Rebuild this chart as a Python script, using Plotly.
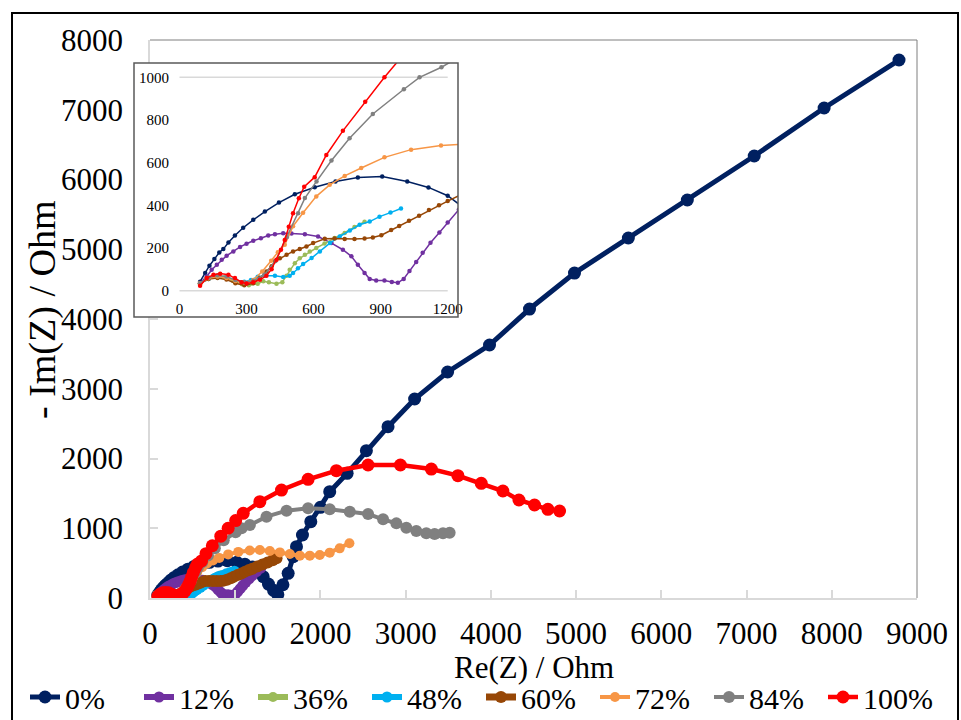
import plotly.graph_objects as go

# ---------------- data ----------------
series_names = ["0%", "12%", "36%", "48%", "60%", "72%", "84%", "100%"]
series_colors = ["#002060", "#7030A0", "#9BBB59", "#00B0F0", "#974706", "#F79646", "#808080", "#FF0000"]

x0 = [92, 115, 134, 156, 178, 196, 219, 248, 285, 330, 382, 445, 516, 605, 698, 798, 907, 1019, 1114, 1200,
      1270, 1328, 1390, 1450, 1500, 1560, 1621, 1680, 1719, 1789, 1887, 2000, 2109, 2313, 2539, 2793, 3105,
      3492, 3984, 4453, 4981, 5613, 6305, 7090, 7910, 8789]
y0 = [42, 83, 117, 148, 179, 195, 226, 259, 295, 332, 371, 413, 452, 485, 512, 530, 535, 512, 484, 445,
      390, 306, 200, 110, 50, 190, 354, 593, 736, 903, 1094, 1300, 1524, 1787, 2112, 2456, 2853,
      3240, 3627, 4143, 4659, 5161, 5706, 6337, 7025, 7713]

x12 = [92, 122, 144, 167, 189, 211, 241, 271, 300, 330, 364, 397, 427, 464, 501, 561, 620, 680, 731, 769, 798,
       828, 851, 880, 917, 950, 977, 1003, 1029, 1059, 1088, 1123, 1163, 1200, 1250, 1300]
y12 = [36, 67, 98, 122, 145, 164, 184, 205, 220, 234, 246, 259, 265, 269, 268, 265, 254, 223, 192, 161, 122,
       83, 55, 48, 48, 41, 37, 55, 92, 134, 178, 225, 273, 320, 380, 430]

x36 = [92, 120, 160, 200, 240, 280, 310, 350, 375, 400, 434, 460, 479, 493, 516, 538, 561, 583, 612, 649, 694,
       739, 783, 828]
y36 = [30, 55, 68, 62, 45, 30, 25, 33, 44, 40, 33, 40, 70, 98, 129, 152, 168, 184, 200, 221, 247, 270, 298, 323]

x48 = [92, 130, 170, 210, 250, 290, 320, 350, 382, 427, 464, 493, 508, 530, 553, 591, 628, 673, 717, 762, 806,
       851, 895, 944, 991]
y48 = [35, 55, 65, 62, 50, 42, 50, 65, 70, 70, 64, 70, 83, 105, 125, 153, 184, 223, 254, 282, 309, 324, 347,
       366, 385]

x60 = [92, 130, 170, 210, 250, 290, 330, 360, 389, 412, 427, 449, 479, 508, 538, 568, 598, 650, 694, 739, 783,
       828, 865, 903, 947, 983, 1027, 1072, 1116, 1161, 1200, 1260, 1320, 1380, 1440, 1485]
y60 = [35, 55, 60, 52, 35, 25, 35, 59, 90, 114, 138, 152, 168, 184, 195, 207, 223, 243, 245, 242, 242, 245, 249,
       260, 284, 303, 328, 351, 378, 401, 420, 450, 480, 510, 540, 569]

x72 = [92, 130, 170, 210, 250, 290, 330, 370, 410, 440, 471, 508, 553, 612, 672, 739, 813, 917, 1036, 1170,
       1289, 1406, 1524, 1641, 1758, 1875, 1992, 2109, 2226, 2340]
y72 = [35, 58, 66, 60, 45, 38, 50, 90, 140, 180, 215, 302, 365, 442, 496, 538, 575, 625, 661, 680, 688, 674,
       654, 631, 607, 607, 616, 650, 712, 785]

x84 = [92, 130, 170, 210, 250, 290, 330, 380, 430, 480, 531, 561, 613, 680, 761, 865, 1004, 1074, 1172, 1367,
       1602, 1855, 2109, 2344, 2559, 2735, 2891, 3008, 3125, 3242, 3340, 3438, 3516]
y84 = [35, 62, 72, 66, 50, 40, 45, 75, 140, 250, 363, 434, 512, 610, 714, 828, 944, 1000, 1047, 1166, 1252,
       1286, 1271, 1238, 1204, 1128, 1070, 1008, 960, 927, 917, 927, 937]

x100 = [92, 122, 152, 182, 219, 248, 278, 300, 330, 360, 389, 412, 434, 454, 471, 489, 508, 534, 558, 605, 657,
        731, 831, 917, 1005, 1094, 1289, 1543, 1855, 2187, 2559, 2938, 3301, 3613, 3887, 4141, 4329, 4512,
        4669, 4806]
y100 = [23, 59, 75, 80, 75, 59, 40, 34, 40, 51, 70, 101, 145, 192, 238, 300, 363, 433, 487, 532, 636, 749, 886,
        1000, 1110, 1214, 1381, 1548, 1701, 1825, 1907, 1907, 1849, 1754, 1644, 1534, 1405, 1333, 1271, 1247]

main_xticks = [0, 1000, 2000, 3000, 4000, 5000, 6000, 7000, 8000, 9000]
main_yticks = [0, 1000, 2000, 3000, 4000, 5000, 6000, 7000, 8000]
inset_xticks = [0, 300, 600, 900, 1200]
inset_yticks = [0, 200, 400, 600, 800, 1000]

xs = [x0, x12, x36, x48, x60, x72, x84, x100]
ys = [y0, y12, y36, y48, y60, y72, y84, y100]

# ---------------- styling ----------------
main_msize = [13, 11, 10, 11, 12, 10, 12, 13]
main_lwidth = [5, 6, 6, 6, 7, 4, 4, 4.5]

W, H = 961, 720
ML, MR, MT, MB = 10, 5, 10, 10
PW, PH = W - ML - MR, H - MT - MB


def px_x(p):
    return (p - ML) / PW


def px_y(p):
    return (MT + PH - p) / PH


FONT = "Liberation Serif"

fig = go.Figure()
for i, name in enumerate(series_names):
    fig.add_trace(go.Scatter(
        x=xs[i], y=ys[i], name=name, mode="lines+markers",
        line=dict(color=series_colors[i], width=main_lwidth[i]),
        marker=dict(color=series_colors[i], size=main_msize[i]),
        xaxis="x", yaxis="y", legendgroup=name))
for i, name in enumerate(series_names):
    fig.add_trace(go.Scatter(
        x=xs[i], y=ys[i], name=name, mode="lines+markers", showlegend=False,
        line=dict(color=series_colors[i], width=1.5),
        marker=dict(color=series_colors[i], size=4.5),
        xaxis="x2", yaxis="y2", legendgroup=name))

# inset pixel geometry (frame and data mapping)
in_x0_px, in_x_scale = 179.5, 0.2235
in_y0_px, in_y_scale = 290.7, 0.2134
frame_l, frame_r, frame_t, frame_b = 134, 458, 63, 317

fig.update_layout(
    width=W, height=H,
    margin=dict(l=ML, r=MR, t=MT, b=MB, autoexpand=False),
    paper_bgcolor="white", plot_bgcolor="white",
    font=dict(family=FONT, color="black"),
    showlegend=True,
    legend=dict(orientation="h", x=px_x(25), xanchor="left", y=px_y(697), yanchor="middle",
                font=dict(family=FONT, size=30, color="black"),
                entrywidth=69, entrywidthmode="pixels", itemwidth=30, tracegroupgap=0,
                bgcolor="rgba(0,0,0,0)"),
    xaxis=dict(domain=[px_x(150), px_x(917)], range=[0, 9000], tickvals=main_xticks,
               showgrid=False, zeroline=False, showline=True, linecolor="#d9d9d9", linewidth=1.5,
               ticks="inside", ticklen=8, tickcolor="#d9d9d9", tickwidth=1.5,
               tickfont=dict(family=FONT, size=31, color="black"), ticklabelstandoff=7, anchor="y"),
    yaxis=dict(domain=[px_y(598), px_y(40)], range=[0, 8000], tickvals=main_yticks,
               showgrid=False, zeroline=False, showline=True, linecolor="#d9d9d9", linewidth=1.5,
               ticks="inside", ticklen=8, tickcolor="#d9d9d9", tickwidth=1.5,
               tickfont=dict(family=FONT, size=31, color="black"), ticklabelstandoff=19, anchor="x"),
    xaxis2=dict(domain=[px_x(frame_l), px_x(frame_r)],
                range=[(frame_l - in_x0_px) / in_x_scale, (frame_r - in_x0_px) / in_x_scale],
                tickvals=inset_xticks, anchor="free", position=px_y(298),
                showgrid=False, zeroline=False, showline=False, ticks="",
                tickfont=dict(family=FONT, size=15, color="black")),
    yaxis2=dict(domain=[px_y(frame_b), px_y(frame_t)],
                range=[(in_y0_px - frame_b) / in_y_scale, (in_y0_px - frame_t) / in_y_scale],
                tickvals=inset_yticks, anchor="free", position=px_x(169),
                showgrid=False, zeroline=False, showline=False, ticks="",
                tickfont=dict(family=FONT, size=15, color="black")),
)

shapes = [
    # main plot area top & right border
    dict(type="line", xref="x domain", yref="y domain", x0=0, x1=1, y0=1, y1=1,
         line=dict(color="#7f7f7f", width=1), layer="above"),
    dict(type="line", xref="x domain", yref="y domain", x0=1, x1=1, y0=0, y1=1,
         line=dict(color="#7f7f7f", width=1), layer="above"),
    # inset axis lines
    dict(type="line", xref="x2", yref="y2", x0=inset_xticks[0], x1=inset_xticks[-1], y0=0, y1=0,
         line=dict(color="#d9d9d9", width=1.5), layer="below"),
    dict(type="line", xref="x2", yref="y2", x0=inset_xticks[0], x1=inset_xticks[-1],
         y0=inset_yticks[-1], y1=inset_yticks[-1], line=dict(color="#d9d9d9", width=1.5), layer="below"),
    # inset frame
    dict(type="rect", xref="x2 domain", yref="y2 domain", x0=0, x1=1, y0=0, y1=1,
         line=dict(color="#595959", width=1.5), fillcolor="rgba(0,0,0,0)", layer="above"),
    # outer frame
    dict(type="rect", xref="paper", yref="paper", x0=px_x(12), x1=px_x(958), y0=px_y(730), y1=px_y(13),
         line=dict(color="black", width=2), fillcolor="rgba(0,0,0,0)", layer="above"),
]
fig.update_layout(shapes=shapes)

fig.add_annotation(text="Re(Z) / Ohm", xref="paper", yref="paper", x=px_x(534), y=px_y(667),
                   xanchor="center", yanchor="middle", showarrow=False,
                   font=dict(family=FONT, size=31, color="black"))
fig.add_annotation(text="- Im(Z) / Ohm", xref="paper", yref="paper", x=px_x(42), y=px_y(310),
                   xanchor="center", yanchor="middle", showarrow=False, textangle=-90,
                   font=dict(family=FONT, size=38, color="black"))

fig.write_html("out.html")
